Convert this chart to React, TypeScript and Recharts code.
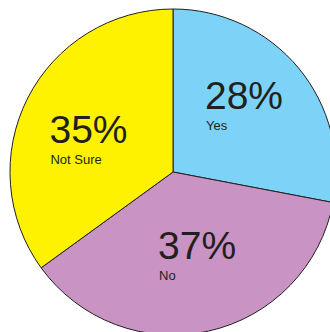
import { Pie, PieChart, Cell } from "recharts";

const answers = ["Yes", "No", "Not Sure"];
const shares = [28, 37, 35];
const colors = ["#7cd3f7", "#c993c3", "#fff200"];

// small hand nudges so each label sits where the original put it
const labelNudge = [
  [-1, -4],
  [3, -3],
  [-3.5, 13],
];

const data = answers.map((name, i) => ({ name, value: shares[i] }));

const RADIAN = Math.PI / 180;
const FONT = "'Liberation Sans', Arial, sans-serif";

// percentage + answer label, placed along the slice's mid angle
function renderLabel(props: any) {
  const { cx, cy, midAngle, outerRadius, index } = props;
  const r = outerRadius * 0.565;
  const [nx, ny] = labelNudge[index];
  const x = cx + r * Math.cos(-midAngle * RADIAN) + nx;
  const y = cy + r * Math.sin(-midAngle * RADIAN) + ny;
  const left = x - 38;
  return (
    <text x={left} y={y} fontFamily={FONT} fill="#231f20" textAnchor="start">
      <tspan x={left} y={y} fontSize={39}>
        {shares[index]}%
      </tspan>
      <tspan x={left + 1} y={y + 21} fontSize={13}>
        {answers[index]}
      </tspan>
    </text>
  );
}

export default function App() {
  return (
    <div style={{ position: "absolute", left: 0, top: 0, width: 330, height: 332, background: "#fff" }}>
      <PieChart width={330} height={332} margin={{ top: 0, right: 0, bottom: 0, left: 0 }}>
        <Pie
          data={data}
          dataKey="value"
          cx={173}
          cy={172}
          outerRadius={163}
          startAngle={90}
          endAngle={-270}
          stroke="#231f20"
          strokeWidth={1}
          labelLine={false}
          label={renderLabel}
          isAnimationActive={false}
        >
          {data.map((d, i) => (
            <Cell key={d.name} fill={colors[i]} />
          ))}
        </Pie>
      </PieChart>
    </div>
  );
}
